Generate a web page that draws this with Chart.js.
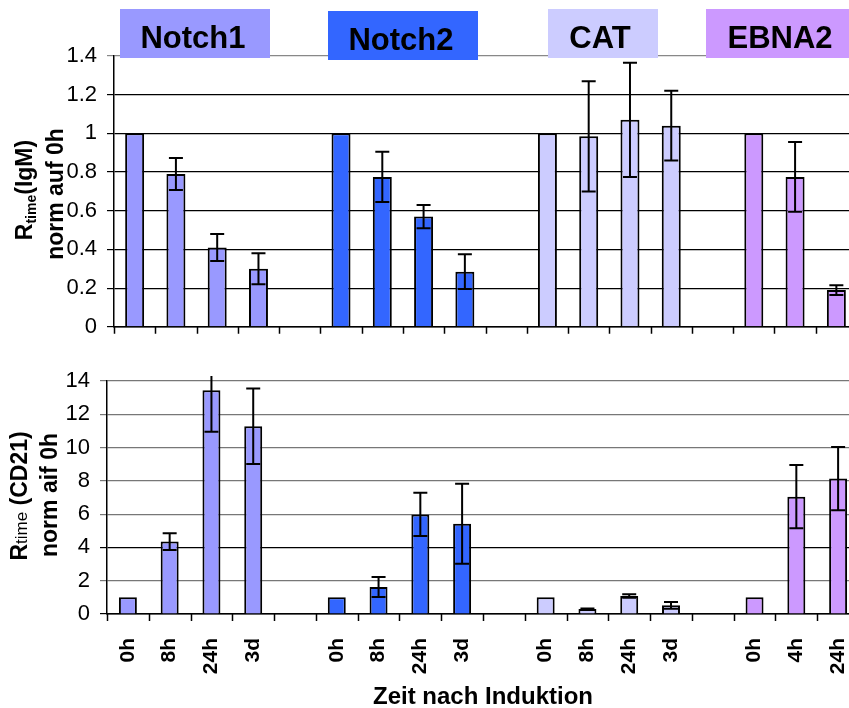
<!DOCTYPE html>
<html>
<head>
<meta charset="utf-8">
<script src="https://cdn.jsdelivr.net/npm/chart.js@4/dist/chart.umd.min.js"></script>
<style>
  html, body { margin: 0; padding: 0; background: #fff; width: 849px; height: 708px; overflow: hidden; }
  canvas { position: absolute; left: 0; }
  #igm { top: 0; }
  #cd21 { top: 350px; }
</style>
</head>
<body>
<canvas id="igm" width="870" height="350"></canvas>
<canvas id="cd21" width="870" height="358"></canvas>
<script>
// categories: four constructs, a blank slot between groups
const labels = ['0h', '8h', '24h', '3d', '', '0h', '8h', '24h', '3d', '', '0h', '8h', '24h', '3d', '', '0h', '4h', '24h'];
const groupNames = ['Notch1', 'Notch2', 'CAT', 'EBNA2'];
const groupColors = ['#9999ff', '#3366ff', '#ccccff', '#cc99ff'];

// R_time (IgM), normalised to 0h
const igmMean = [1, 0.79, 0.41, 0.30, null, 1, 0.775, 0.57, 0.285, null, 1, 0.985, 1.07, 1.04, null, 1, 0.775, 0.19];
const igmErr = [0, 0.083, 0.07, 0.08, null, 0, 0.13, 0.06, 0.09, null, 0, 0.285, 0.295, 0.18, null, 0, 0.18, 0.025];

// R_time (CD21), normalised to 0h
const cd21Mean = [1, 4.35, 13.45, 11.28, null, 1, 1.62, 5.98, 5.42, null, 1, 0.3, 1.08, 0.52, null, 1, 7.05, 8.14];
const cd21Err = [0, 0.5, 2.5, 2.27, null, 0, 0.6, 1.3, 2.4, null, 0, 0.03, 0.1, 0.2, null, 0, 1.9, 1.9];

const FONT = "'Liberation Sans', Arial, sans-serif";

// coloured name boxes over the top panel
const nameBoxes = [
  { x: 120, y: 9, w: 150, h: 49, tx: 193, ty: 48 },
  { x: 328, y: 11, w: 150, h: 49, tx: 401, ty: 50 },
  { x: 548, y: 9, w: 110, h: 49, tx: 600, ty: 48 },
  { x: 706, y: 9, w: 150, h: 49, tx: 780, ty: 48 }
];

const errorBars = {
  id: 'errorBars',
  afterDatasetsDraw(chart) {
    const ds = chart.data.datasets[0];
    const meta = chart.getDatasetMeta(0);
    const y = chart.scales.y;
    const a = chart.chartArea;
    const ctx = chart.ctx;
    ctx.save();
    ctx.beginPath();
    ctx.rect(a.left, a.top - 5, a.right - a.left, a.bottom - a.top + 5);
    ctx.clip();
    ctx.strokeStyle = '#000';
    ctx.lineWidth = 2;
    ds.data.forEach((v, i) => {
      const e = ds.errs[i];
      if (v == null || !e) return;
      const x = meta.data[i].x;
      const top = y.getPixelForValue(v + e);
      const bot = y.getPixelForValue(v - e);
      ctx.beginPath();
      ctx.moveTo(x, top); ctx.lineTo(x, bot);
      ctx.moveTo(x - 7, top); ctx.lineTo(x + 7, top);
      ctx.moveTo(x - 7, bot); ctx.lineTo(x + 7, bot);
      ctx.stroke();
    });
    ctx.restore();
  }
};

// short category-boundary tick marks under the x axis
const xTickMarks = {
  id: 'xTickMarks',
  afterDraw(chart) {
    const x = chart.scales.x;
    const ctx = chart.ctx;
    const step = (x.right - x.left) / labels.length;
    ctx.save();
    ctx.strokeStyle = '#000';
    ctx.lineWidth = 1.5;
    ctx.beginPath();
    for (let i = 0; i <= labels.length; i++) {
      const px = Math.round(x.left + i * step) + 0.5;
      ctx.moveTo(px, x.top);
      ctx.lineTo(px, x.top + 7);
    }
    ctx.stroke();
    ctx.restore();
  }
};

function drawRotated(ctx, cx, cy, parts) {
  ctx.save();
  ctx.translate(cx, cy);
  ctx.rotate(-Math.PI / 2);
  ctx.fillStyle = '#000';
  ctx.textBaseline = 'alphabetic';
  let total = 0;
  parts.forEach(p => { ctx.font = p.font; total += ctx.measureText(p.t).width; });
  let x = -total / 2;
  parts.forEach(p => {
    ctx.font = p.font;
    ctx.fillText(p.t, x, p.dy || 0);
    x += ctx.measureText(p.t).width;
  });
  ctx.restore();
}

const igmDecor = {
  id: 'igmDecor',
  afterDraw(chart) {
    const ctx = chart.ctx;
    nameBoxes.forEach((b, i) => {
      ctx.fillStyle = groupColors[i];
      ctx.fillRect(b.x, b.y, b.w, b.h);
      ctx.fillStyle = '#000';
      ctx.font = 'bold 31px ' + FONT;
      ctx.textAlign = 'center';
      ctx.textBaseline = 'alphabetic';
      ctx.fillText(groupNames[i], b.tx, b.ty);
    });
    ctx.textAlign = 'left';
    drawRotated(ctx, 24, 190, [
      { t: 'R', font: 'bold 23px ' + FONT, dy: 8 },
      { t: 'time', font: 'bold 14px ' + FONT, dy: 12 },
      { t: '(IgM)', font: 'bold 23px ' + FONT, dy: 8 }
    ]);
    drawRotated(ctx, 55, 194, [{ t: 'norm auf 0h', font: 'bold 23px ' + FONT, dy: 8 }]);
  }
};

const cd21Decor = {
  id: 'cd21Decor',
  afterDraw(chart) {
    const ctx = chart.ctx;
    ctx.textAlign = 'left';
    drawRotated(ctx, 19, 146, [
      { t: 'R', font: 'bold 23px ' + FONT, dy: 8 },
      { t: 'time', font: '17px ' + FONT, dy: 8 },
      { t: ' (CD21)', font: 'bold 23px ' + FONT, dy: 8 }
    ]);
    drawRotated(ctx, 49, 145, [{ t: 'norm aif 0h', font: 'bold 23px ' + FONT, dy: 8 }]);
  }
};

function makeChart(id, means, errs, cfg) {
  return new Chart(document.getElementById(id), {
    type: 'bar',
    data: {
      labels: cfg.showLabels ? labels : labels.map(() => ''),
      datasets: [{
        data: means,
        errs: errs,
        backgroundColor: c => groupColors[Math.floor(c.dataIndex / 5)],
        borderColor: '#000',
        borderWidth: 2,
        barPercentage: cfg.barPct,
        categoryPercentage: 1
      }]
    },
    options: {
      responsive: false,
      animation: false,
      locale: 'en-US',
      layout: { padding: cfg.padding },
      plugins: { legend: { display: false }, tooltip: { enabled: false } },
      scales: {
        x: {
          offset: true,
          // invisible ticks: only used to push the rotated labels down
          grid: { display: true, drawOnChartArea: false, color: 'rgba(0,0,0,0)', tickLength: cfg.xTickLen },
          border: { display: true, color: '#000', width: 1.5 },
          ticks: {
            display: cfg.showLabels, autoSkip: false, minRotation: 90, maxRotation: 90, padding: 0,
            color: '#000', font: { family: FONT, size: 21, weight: 'bold' }
          },
          title: {
            display: cfg.showLabels, text: 'Zeit nach Induktion', color: '#000', padding: { top: 0, bottom: -4 },
            font: { family: FONT, size: 24, weight: 'bold' }
          },
          afterFit: s => { s.height = cfg.xHeight; }
        },
        y: {
          min: 0, max: cfg.max,
          ticks: {
            stepSize: cfg.step, padding: 10, color: '#000',
            font: { family: FONT, size: 22 },
            callback: v => String(Math.round(v * 10) / 10)
          },
          grid: { color: cfg.gridColor, tickLength: 7, lineWidth: 1.2 },
          border: { color: '#000', width: 1.5 },
          afterFit: s => { s.width = cfg.yWidth; }
        }
      }
    },
    plugins: [errorBars, xTickMarks, cfg.decor]
  });
}

makeChart('igm', igmMean, igmErr, {
  showLabels: false, barPct: 0.46, max: 1.4, step: 0.2, yWidth: 114, xHeight: 20, xTickLen: 7,
  padding: { top: 56, right: 13, bottom: 0, left: 0 },
  gridColor: c => (c.tick && c.tick.value >= 1.39 ? '#888' : '#000'),
  decor: igmDecor
});

makeChart('cd21', cd21Mean, cd21Err, {
  showLabels: true, barPct: 0.43, max: 14, step: 2, yWidth: 107, xHeight: 94, xTickLen: 24,
  padding: { top: 31, right: 11, bottom: 0, left: 0 },
  gridColor: c => (c.tick && (c.tick.value === 4 || c.tick.value === 0) ? '#000' : '#777'),
  decor: cd21Decor
});
</script>
</body>
</html>
